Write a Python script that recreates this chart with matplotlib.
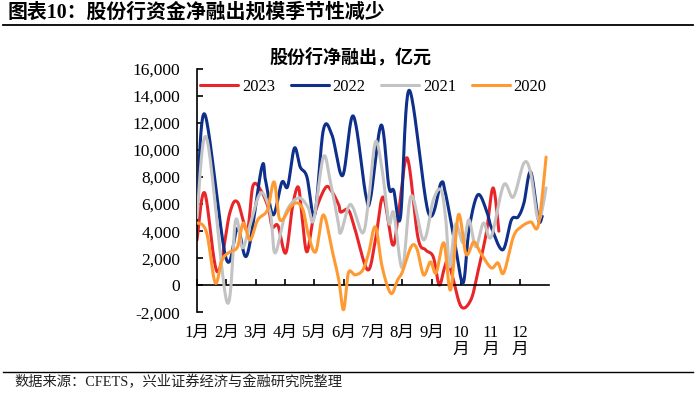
import numpy as np
import matplotlib.pyplot as plt
from matplotlib.lines import Line2D

plt.rcParams['font.family'] = ['Liberation Serif', 'Noto Sans CJK SC']

months = ['1月', '2月', '3月', '4月', '5月', '6月', '7月', '8月', '9月',
          '10\n月', '11\n月', '12\n月']
years = ['2023', '2022', '2021', '2020']
colors = ['#E8262A', '#0E2F8A', '#C3C3C3', '#FF9A33']

# day of year / net lending (100m yuan)
day_2023 = [0, 8, 21, 34, 42, 52, 58, 66, 74, 78, 84, 92, 99, 105, 109, 114,
            121, 133, 140, 147, 149, 157, 164, 177, 185, 193, 203, 209, 218,
            229, 237, 245, 251, 256, 260, 265, 274, 284, 291, 300, 307, 313]
val_2023 = [3350, 6820, 1000, 5340, 6150, 4090, 7330, 7040, 5710, 4310, 4400,
            2390, 5790, 7260, 5000, 2470, 5050, 7190, 6900, 5930, 5410, 5560,
            4090, 1140, 3350, 6520, 2980, 5340, 9400, 3570, 2620, 2100, 40,
            1140, 1880, 630, -1580, -1070, 920, 3870, 7190, 4000]

day_2022 = [0, 8, 30, 42, 52, 67, 71, 79, 88, 94, 101, 107, 114, 122, 131,
            140, 151, 162, 175, 180, 191, 199, 204, 211, 220, 240, 253, 257,
            263, 268, 276, 282, 291, 300, 305, 317, 326, 333, 339, 346, 354,
            358]
val_2022 = [5100, 12640, 2030, 4200, 2250, 8660, 7770, 5200, 7600, 7300,
            10130, 8740, 8000, 5200, 11460, 11090, 8100, 12500, 6670, 6450,
            11830, 7260, 7000, 5050, 14400, 5340, 7550, 7000, 4830, 2840, 180,
            4090, 6670, 5560, 4310, 2620, 4830, 5050, 6080, 8370, 4830, 5100]

day_2021 = [0, 10, 31, 40, 47, 54, 66, 76, 81, 92, 105, 115, 121, 131, 138,
            146, 149, 157, 162, 172, 178, 185, 192, 199, 204, 213, 222, 235,
            245, 253, 258, 262, 268, 276, 282, 289, 297, 305, 318, 328, 339,
            346, 354, 362]
val_2021 = [5000, 10870, -1220, 4800, 2780, 4200, 6820, 5340, 2390, 5340,
            6450, 5790, 4830, 9470, 7770, 4830, 3870, 5790, 5700, 3870, 6300,
            10580, 8510, 4600, 5340, 1290, 6600, 3350, 6300, 7040, 4830, 1360,
            4500, 3130, 4830, 2840, 4600, 3570, 7410, 6520, 9030, 8290, 4830,
            7190]

day_2020 = [0, 6, 11, 19, 26, 34, 42, 48, 55, 63, 73, 80, 86, 97, 104, 110,
            115, 123, 131, 140, 147, 152, 157, 164, 172, 178, 185, 192, 201,
            208, 213, 222, 228, 235, 242, 248, 256, 263, 271, 279, 287, 294,
            305, 312, 318, 328, 336, 346, 354, 362]
val_2020 = [4600, 4450, 3570, 180, 1880, 2470, 2840, 4600, 3350, 4830, 5560,
            7630, 4830, 5790, 6080, 5560, 3870, 2470, 5200, 2620, 400, -1800,
            920, 770, 1140, 2390, 4310, 1360, -590, 400, 1000, 2840, 2700, 770,
            1730, 920, 3130, -330, 5200, 2300, 3200, 2400, 1290, 1660, 920,
            3570, 4310, 4680, 4460, 9470]

days = [day_2023, day_2022, day_2021, day_2020]
vals = [val_2023, val_2022, val_2021, val_2020]


def smooth(x, y, n=24):
    # Excel style smoothed line (Catmull-Rom through the points)
    p = np.column_stack([x, y]).astype(float)
    p = np.vstack([p[0], p, p[-1]])
    t = np.linspace(0, 1, n, endpoint=False)[:, None]
    out = []
    for i in range(1, len(p) - 2):
        p0, p1, p2, p3 = p[i - 1], p[i], p[i + 1], p[i + 2]
        seg = 0.5 * (2 * p1 + (p2 - p0) * t + (2 * p0 - 5 * p1 + 4 * p2 - p3) * t ** 2
                     + (3 * p1 - p0 - 3 * p2 + p3) * t ** 3)
        out.append(seg)
    out.append(p[-2][None, :])
    out = np.vstack(out)
    return out[:, 0], out[:, 1]


fig = plt.figure(figsize=(7, 3.94), dpi=100)
ax = fig.add_axes([0.2814, 0.207, 0.5029, 0.619])

for i, (d, v) in enumerate(zip(days, vals)):
    sx, sy = smooth(d, v)
    ax.plot(sx, sy, color=colors[i], lw=2.2, label=years[i], zorder=2 + i,
            solid_capstyle='round')

ax.set_xlim(0, 365)
ax.set_ylim(-2000, 16000)
yt = np.arange(-2000, 16001, 2000)
ax.set_yticks(yt, labels=[f'{v:,}' for v in yt])
mt = np.arange(12) * 365 / 12
ax.set_xticks(mt)
ax.spines['top'].set_visible(False)
ax.spines['right'].set_visible(False)
ax.spines['bottom'].set_position(('data', 0))
ax.spines['left'].set_linewidth(1.2)
ax.spines['bottom'].set_linewidth(1.2)
ax.tick_params(axis='x', direction='in', length=4, width=1.2, labelbottom=False)
ax.tick_params(axis='y', direction='in', length=4, width=1.2, labelsize=12.5, pad=12)

sec = ax.secondary_xaxis('bottom')
sec.set_xticks(mt, labels=months)
sec.spines['bottom'].set_visible(False)
sec.tick_params(length=0, pad=9, labelsize=12)
for lab in sec.get_xticklabels():
    lab.set_linespacing(1.05)
    lab.set_verticalalignment('top')

ax.legend(loc='upper left', bbox_to_anchor=(-0.01, 0.985), ncol=4, frameon=False,
          fontsize=12, handlelength=2.3, handletextpad=0.2, columnspacing=0.95,
          borderaxespad=0)

fig.text(0.5, 1 - 57 / 394, '股份行净融出，亿元', ha='center', va='center',
         fontsize=13, fontweight='bold', family=['Noto Sans CJK SC'])
fig.text(0.011, 1 - 12.5 / 394, '图表10：股份行资金净融出规模季节性减少',
         ha='left', va='center', fontsize=14.3, fontweight='bold')
fig.add_artist(Line2D([0.004, 0.99], [1 - 25 / 394] * 2, transform=fig.transFigure,
                      color='black', lw=1.3))
fig.add_artist(Line2D([0.004, 0.99], [1 - 371.5 / 394] * 2, transform=fig.transFigure,
                      color='black', lw=1.0))
fig.text(0.021, 1 - 382 / 394, '数据来源：CFETS，兴业证券经济与金融研究院整理',
         ha='left', va='center', fontsize=10.3, color='#222222')

fig.savefig('out.png', dpi=100)
